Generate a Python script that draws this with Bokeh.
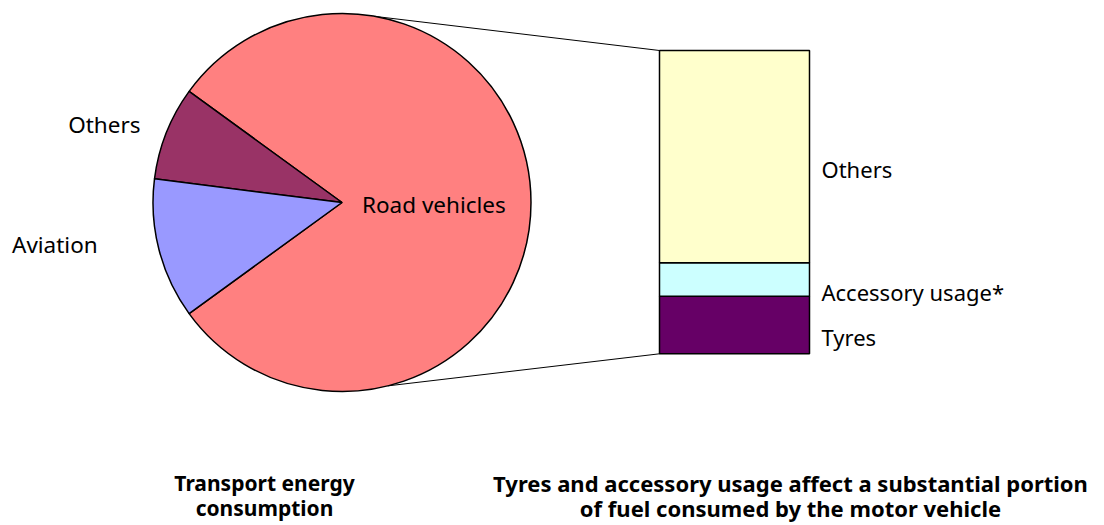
import math
from bokeh.plotting import figure
from bokeh.models import Range1d, ColumnDataSource
from bokeh.core.properties import value
from bokeh.embed import file_html
from bokeh.resources import INLINE

# ---------------- data ----------------
pie_labels = ["Road vehicles", "Others", "Aviation"]
pie_values = [80, 8, 12]
pie_colors = ["#FF8080", "#993366", "#9999FF"]

bar_labels = ["Tyres", "Accessory usage*", "Others"]
bar_values = [19, 11, 70]
bar_colors = ["#660066", "#CCFFFF", "#FFFFCC"]

title_left = ["Transport energy", "consumption"]
title_right = ["Tyres and accessory usage affect a substantial portion",
               "of fuel consumed by the motor vehicle"]

# ---------------- layout (page pixel coords, origin top-left) ----------------
W, H = 1104, 525


def Y(ry):
    return H - ry


PIE_CX, PIE_CY, PIE_R = 341.5, 202.0, 189.0
BAR_X, BAR_W = 734.0, 150.0
BAR_TOP, BAR_BOTTOM = 50.0, 353.3
FONT = "Noto Sans"
TXT_DY = -8  # screen-pixel correction for text baseline placement

p = figure(width=W, height=H, output_backend="svg", toolbar_location=None,
           x_range=Range1d(0, W), y_range=Range1d(0, H),
           min_border=0, outline_line_color=None)
p.axis.visible = False
p.grid.visible = False
p.background_fill_color = "white"
p.border_fill_color = "white"

# bar value range: 0 at BAR_BOTTOM, total at BAR_TOP
total_bar = sum(bar_values)
px_per_unit = (BAR_BOTTOM - BAR_TOP) / total_bar
p.extra_y_ranges = {"bar": Range1d((0 - Y(BAR_BOTTOM)) / px_per_unit,
                                   (H - Y(BAR_BOTTOM)) / px_per_unit)}

# ---------------- connector lines ----------------
a_up, a_dn = math.radians(80), math.radians(-76)
p.segment(x0=[PIE_CX + PIE_R * math.cos(a_up), PIE_CX + PIE_R * math.cos(a_dn)],
          y0=[Y(PIE_CY) + PIE_R * math.sin(a_up), Y(PIE_CY) + PIE_R * math.sin(a_dn)],
          x1=[BAR_X - BAR_W / 2] * 2,
          y1=[Y(BAR_TOP), Y(BAR_BOTTOM)],
          line_color="black", line_width=1)

# ---------------- pie ----------------
total_pie = sum(pie_values)
start = -math.pi * pie_values[0] / total_pie
starts, ends = [], []
acc = start
for v in pie_values:
    starts.append(acc)
    acc += 2 * math.pi * v / total_pie
    ends.append(acc)
pie_src = ColumnDataSource(dict(start=starts, end=ends, color=pie_colors, label=pie_labels))
p.wedge(x=PIE_CX, y=Y(PIE_CY), radius=PIE_R, start_angle="start", end_angle="end",
        fill_color="color", line_color="black", line_width=1.5, source=pie_src)

# pie labels
p.text(x=[361.5, 140.0, 11.5], y=[Y(211.7), Y(132.3), Y(251.7)], text=pie_labels,
       y_offset=TXT_DY,
       text_align=["left", "right", "left"], text_baseline="alphabetic",
       text_font=value(FONT), text_font_size="22.5px", text_color="black")

# ---------------- bar ----------------
bottoms, tops = [], []
acc = 0
for v in bar_values:
    bottoms.append(acc)
    acc += v
    tops.append(acc)
bar_src = ColumnDataSource(dict(bottom=bottoms, top=tops, color=bar_colors, label=bar_labels,
                                mid=[(b + t) / 2 for b, t in zip(bottoms, tops)]))
p.vbar(x=BAR_X, width=BAR_W, bottom="bottom", top="top", fill_color="color",
       line_color="black", line_width=1.5, source=bar_src, y_range_name="bar")
p.text(x=BAR_X + BAR_W / 2 + 12, y="mid", text="label", source=bar_src, y_range_name="bar",
       y_offset=20.5 + TXT_DY, text_align="left", text_baseline="alphabetic",
       text_font=value(FONT), text_font_size="22px", text_color="black")

# ---------------- titles ----------------
for cx, lines, size in ((264.0, title_left, "21px"), (790.0, title_right, "22px")):
    p.text(x=[cx] * len(lines), y=[Y(490.7), Y(515.0)], text=lines,
           y_offset=TXT_DY,
           text_align="center", text_baseline="alphabetic",
           text_font=value(FONT), text_font_size=size, text_font_style="bold",
           text_color="black")

open("out.html", "w").write(file_html(p, INLINE))
